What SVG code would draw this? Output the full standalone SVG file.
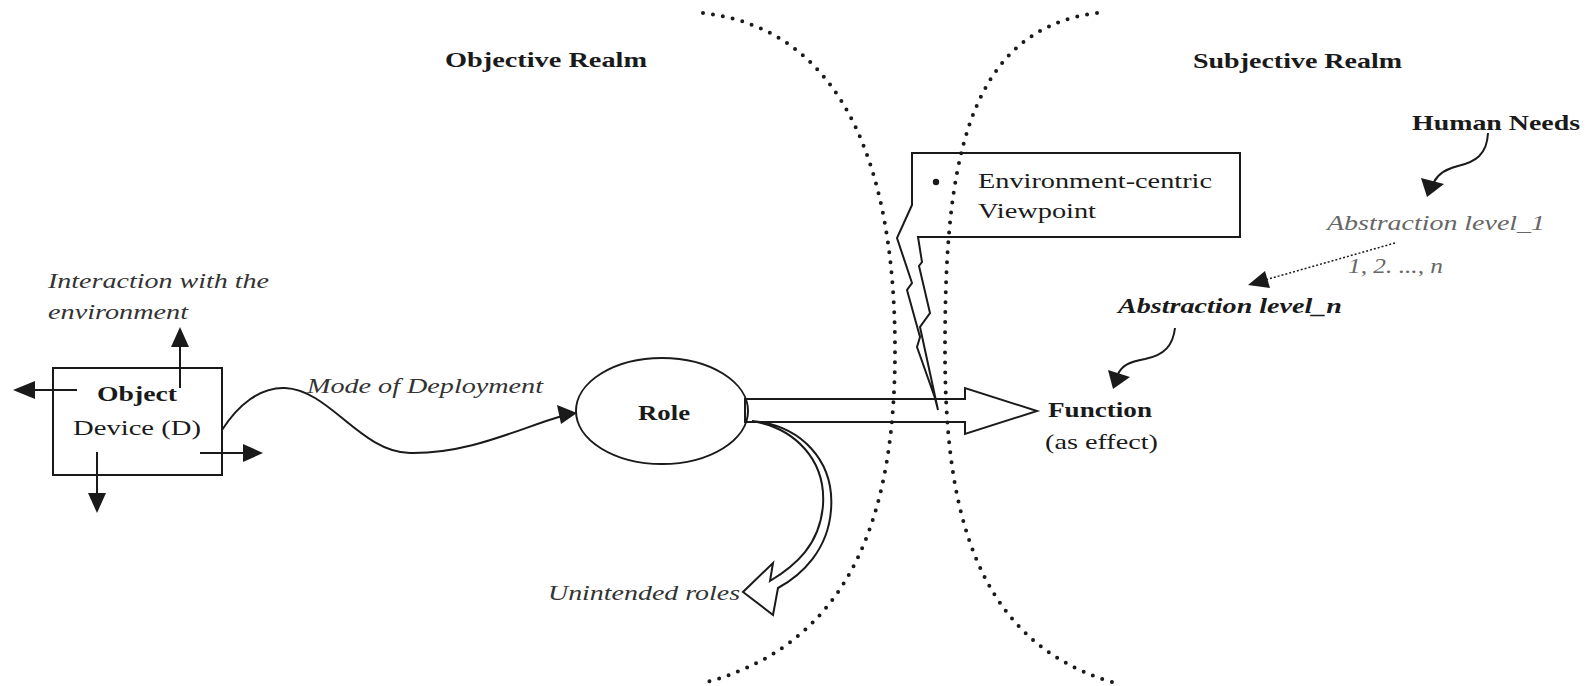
<svg xmlns="http://www.w3.org/2000/svg" width="1595" height="686" viewBox="0 0 1595 686">
<style>
text{font-family:"Liberation Serif","Times New Roman",serif;fill:#1a1a1a;font-size:22px}
.b{font-weight:bold}
.i{font-style:italic;fill:#333}
.g{fill:#666}
.ln{fill:none;stroke:#1a1a1a;stroke-width:2}
.hd{fill:#1a1a1a;stroke:none}
.dot{fill:none;stroke:#1a1a1a;stroke-width:4;stroke-linecap:round;stroke-dasharray:0 10}
</style>
<rect width="1595" height="686" fill="#fff"/>
<g id="realms">
<path class="dot" d="M703,13 C850,30 895,180 895,350 C895,500 860,640 707,682"/>
<path class="dot" d="M1097,13 C960,30 945,180 945,350 C945,500 970,640 1112,682"/>
<text class="b" x="445" y="67" textLength="202" lengthAdjust="spacingAndGlyphs">Objective Realm</text>
<text class="b" x="1193" y="68" textLength="209" lengthAdjust="spacingAndGlyphs">Subjective Realm</text>
</g>
<g id="connectors">
<path class="ln" d="M180,388 V345"/><polygon class="hd" points="180,327 171,347 189,347"/>
<path class="ln" d="M77,390 H33"/><polygon class="hd" points="13,390 35,381 35,399"/>
<path class="ln" d="M200,453 H245"/><polygon class="hd" points="263,453 243,444 243,462"/>
<path class="ln" d="M97,452 V495"/><polygon class="hd" points="97,513 88,493 106,493"/>
<path class="ln" d="M222,430 C238,405 260,387 285,388 C330,390 360,452 410,453 C470,454 520,428 562,416"/>
<polygon class="hd" points="577,413 557,405 561,424"/>
<path class="ln" d="M745,399 L965,399 L965,388 L1037,411 L965,434 L965,422 L745,422 Z"/>
<path class="ln" d="M752,421 C800,425 835,460 831,510 C828,550 802,575 778,588 L773,615 L743,592 L773,563 L770,581 C795,566 820,545 823,505 C826,460 795,428 752,421 Z"/>
<path class="ln" d="M1488,133 C1487,155 1475,162 1458,166 C1445,169 1438,174 1434,182"/>
<polygon class="hd" points="1427,197 1421,178 1444,184"/>
<path class="ln" style="stroke-width:1.5;stroke-dasharray:2 2" d="M1395,243 L1265,280"/>
<polygon class="hd" points="1248,285 1265,271 1270,288"/>
<path class="ln" d="M1175,328 C1173,345 1165,355 1145,359 C1128,362 1122,366 1118,374"/>
<polygon class="hd" points="1113,389 1108,370 1130,377"/>
</g>
<g id="object">
<rect class="ln" x="53" y="368" width="169" height="107"/>
<text class="b" x="97" y="401" textLength="80" lengthAdjust="spacingAndGlyphs">Object</text>
<text x="73" y="435" textLength="128" lengthAdjust="spacingAndGlyphs">Device (D)</text>
</g>
<g id="interaction">
<text class="i" x="48" y="288" textLength="221" lengthAdjust="spacingAndGlyphs">Interaction with the</text>
<text class="i" x="48" y="319" textLength="140" lengthAdjust="spacingAndGlyphs">environment</text>
</g>
<g id="mode">
<text class="i" x="307" y="393" textLength="236" lengthAdjust="spacingAndGlyphs">Mode of Deployment</text>
</g>
<g id="role">
<ellipse class="ln" cx="662" cy="411" rx="86" ry="53"/>
<text class="b" x="638" y="420" textLength="52" lengthAdjust="spacingAndGlyphs">Role</text>
</g>
<g id="unintended">
<text class="i" x="548" y="600" textLength="192" lengthAdjust="spacingAndGlyphs">Unintended roles</text>
</g>
<g id="viewpoint">
<path class="ln" d="M912,205 L912,153 L1240,153 L1240,237 L918,237 L922,262 L919,266 L930,313 L920,327 L938,410 L935,398 L917,347 L920,337 L907,290 L912,283 L897,238 Z"/>
<circle cx="936" cy="182" r="3.2" fill="#1a1a1a"/>
<text x="978" y="188" textLength="234" lengthAdjust="spacingAndGlyphs">Environment-centric</text>
<text x="978" y="218" textLength="118" lengthAdjust="spacingAndGlyphs">Viewpoint</text>
</g>
<g id="function">
<text class="b" x="1048" y="417" textLength="104" lengthAdjust="spacingAndGlyphs">Function</text>
<text x="1045" y="449" textLength="113" lengthAdjust="spacingAndGlyphs">(as effect)</text>
</g>
<g id="needs">
<text class="b" x="1412" y="130" textLength="168" lengthAdjust="spacingAndGlyphs">Human Needs</text>
</g>
<g id="level1">
<text class="i g" x="1327" y="230" textLength="218" lengthAdjust="spacingAndGlyphs">Abstraction level_1</text>
<text class="i g" x="1348" y="273" textLength="95" lengthAdjust="spacingAndGlyphs">1, 2. ..., n</text>
</g>
<g id="leveln">
<text class="b i" style="fill:#1a1a1a" x="1118" y="313" textLength="224" lengthAdjust="spacingAndGlyphs">Abstraction level_n</text>
</g>
</svg>
